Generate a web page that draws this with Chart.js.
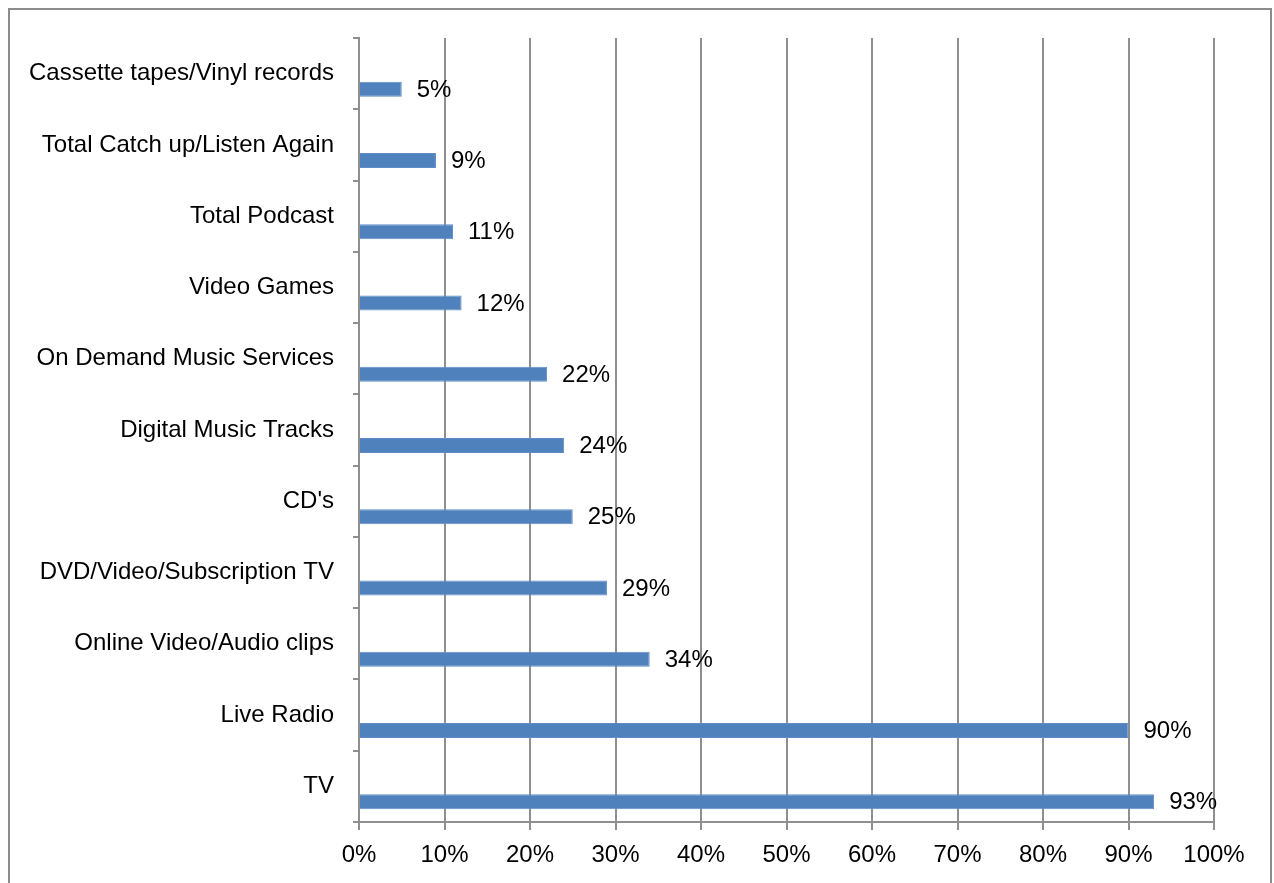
<!DOCTYPE html>
<html>
<head>
<meta charset="utf-8">
<script src="https://cdn.jsdelivr.net/npm/chart.js@4.4.1/dist/chart.umd.min.js"></script>
<style>
  html, body { margin: 0; padding: 0; background: #fff; }
  #wrap { position: relative; width: 1274px; height: 883px; }
</style>
</head>
<body>
<div id="wrap"><canvas id="c" width="1274" height="883"></canvas></div>
<script>
const categories = [
  "Cassette tapes/Vinyl records",
  "Total Catch up/Listen Again",
  "Total Podcast",
  "Video Games",
  "On Demand Music Services",
  "Digital Music Tracks",
  "CD's",
  "DVD/Video/Subscription TV",
  "Online Video/Audio clips",
  "Live Radio",
  "TV"
];
const values = [5, 9, 11, 12, 22, 24, 25, 29, 34, 90, 93];
const spacerValues = categories.map(() => null);
const xTicks = [0, 10, 20, 30, 40, 50, 60, 70, 80, 90, 100];

const FONT = "'Liberation Sans', Arial, sans-serif";
const GRID = '#8f8f8f';

const frame = {
  id: 'frame',
  beforeDraw(chart) {
    const ctx = chart.ctx;
    ctx.save();
    ctx.fillStyle = '#fff';
    ctx.fillRect(0, 0, chart.width, chart.height);
    ctx.strokeStyle = '#8c8c8c';
    ctx.lineWidth = 2;
    ctx.strokeRect(9, 9, 1262, 900);
    ctx.restore();
  }
};

const dataLabels = {
  id: 'dataLabels',
  afterDatasetsDraw(chart) {
    const ctx = chart.ctx;
    const meta = chart.getDatasetMeta(1);
    ctx.save();
    ctx.font = '24px ' + FONT;
    ctx.fillStyle = '#000';
    ctx.textAlign = 'left';
    ctx.textBaseline = 'middle';
    meta.data.forEach((bar, i) => {
      ctx.fillText(values[i] + '%', bar.x + 15, bar.y + 1);
    });
    ctx.restore();
  }
};

new Chart(document.getElementById('c'), {
  type: 'bar',
  data: {
    labels: categories,
    datasets: [
      { data: spacerValues, backgroundColor: 'rgba(0,0,0,0)' },
      { data: values, backgroundColor: '#4f81bd', borderColor: '#5f8cc4', borderWidth: 1 }
    ]
  },
  options: {
    indexAxis: 'y',
    responsive: false,
    animation: false,
    devicePixelRatio: 1,
    categoryPercentage: 0.87,
    barPercentage: 0.484,
    layout: { padding: { top: 38, right: 60, bottom: 0, left: 0 } },
    plugins: { legend: { display: false }, tooltip: { enabled: false } },
    scales: {
      x: {
        min: 0, max: 100,
        afterBuildTicks(scale) { scale.ticks = xTicks.map(v => ({ value: v })); },
        afterFit(scale) { scale.height = 61; },
        grid: { color: GRID, lineWidth: 2, tickLength: 8, drawOnChartArea: true },
        border: { color: GRID, width: 2 },
        ticks: {
          color: '#000',
          font: { family: FONT, size: 24 },
          padding: 11,
          maxRotation: 0,
          callback: v => v + '%'
        }
      },
      y: {
        afterFit(scale) { scale.width = 359; },
        grid: { color: GRID, lineWidth: 2, tickLength: 6, drawOnChartArea: false, offset: true },
        border: { color: GRID, width: 2 },
        ticks: {
          color: '#000',
          font: { family: FONT, size: 24 },
          padding: 19,
          autoSkip: false
        }
      }
    }
  },
  plugins: [frame, dataLabels]
});
</script>
</body>
</html>
